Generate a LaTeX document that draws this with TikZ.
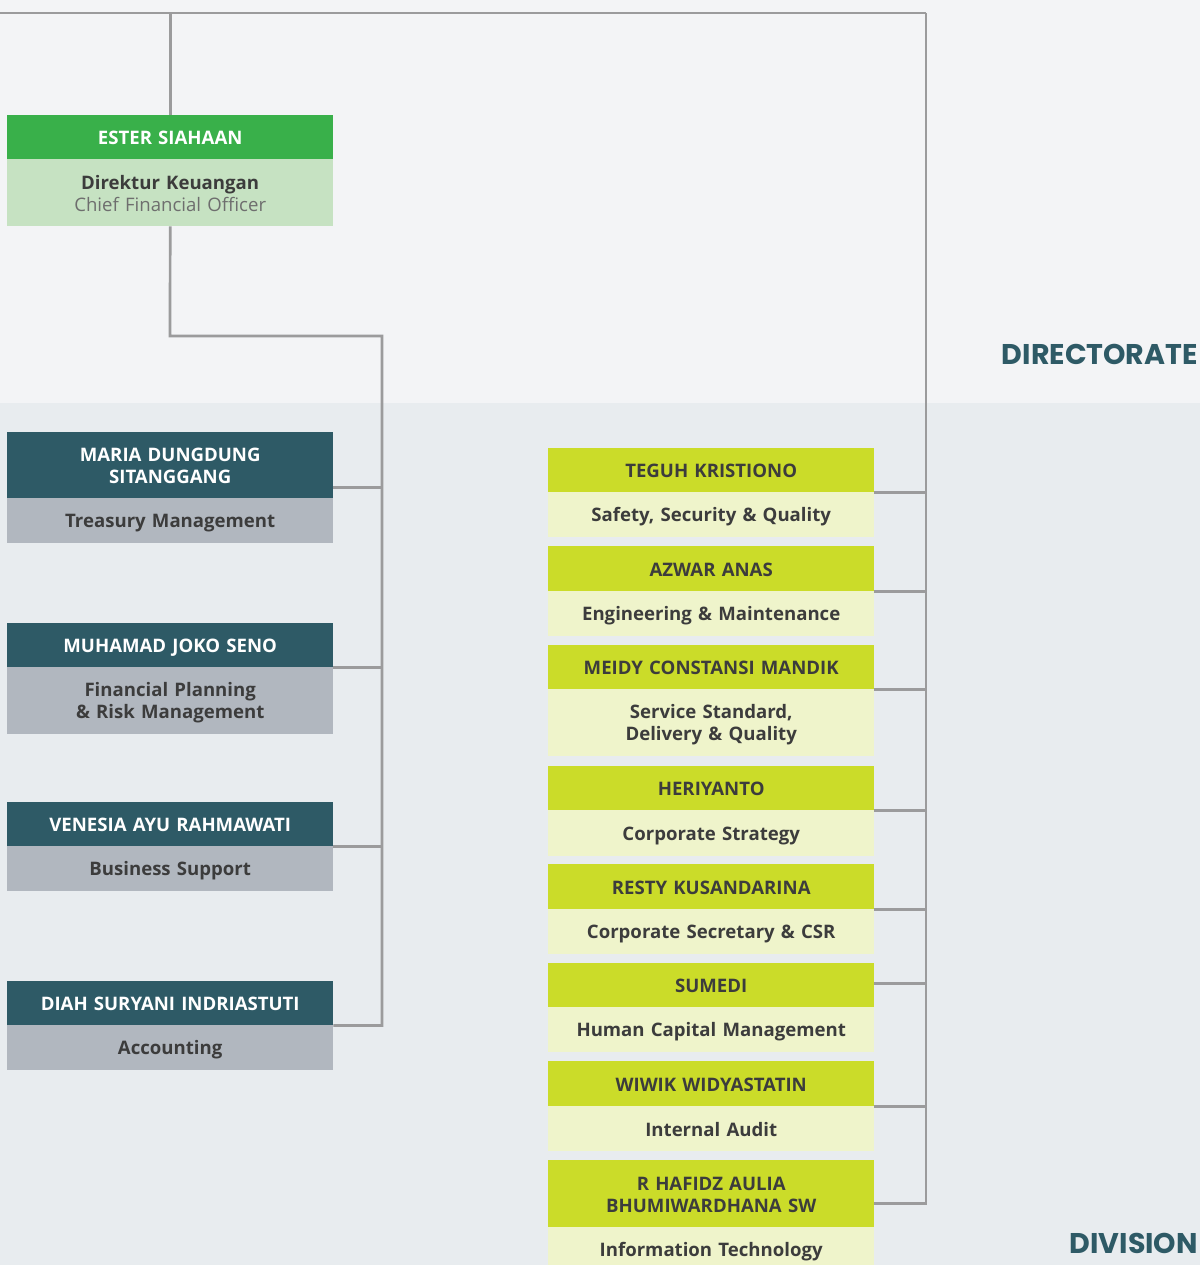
\documentclass[tikz,border=0pt]{standalone}
\usepackage{fontspec}
\setmainfont{Open Sans}
\newfontfamily\titlefont{Poppins}
\usetikzlibrary{calc}
\definecolor{bgtop}{HTML}{F3F4F6}
\definecolor{bgbot}{HTML}{E8ECEF}
\definecolor{linec}{HTML}{9B9B9C}
\definecolor{cfogreen}{HTML}{39B04A}
\definecolor{cfolight}{HTML}{C6E2C2}
\definecolor{tealh}{HTML}{2E5A66}
\definecolor{grayb}{HTML}{B1B7BF}
\definecolor{limeh}{HTML}{CBDC29}
\definecolor{limeb}{HTML}{EFF4CB}
\definecolor{txt}{HTML}{3C3C3C}
\definecolor{subtxt}{HTML}{6E6E6E}
\tikzset{
  cell/.style={draw=none, inner sep=0pt, minimum width=326pt, text width=320pt,
    align=center, anchor=north west, font=\fontsize{18.6}{22}\selectfont\bfseries, text=txt,
    execute at begin node={\rule{0pt}{19pt}},
    execute at end node={\rule[-4pt]{0pt}{4pt}}},
  tealhead/.style={cell, fill=tealh, text=white},
  graybody/.style={cell, fill=grayb},
  limehead/.style={cell, fill=limeh},
  limebody/.style={cell, fill=limeb},
  conn/.style={draw=linec, line width=2.7pt},
  section/.style={anchor=east, inner sep=0pt, text=tealh, font=\titlefont\fontsize{28.5}{30}\selectfont\bfseries}
}
\begin{document}
\begin{tikzpicture}[x=1pt,y=-1pt]
\useasboundingbox (0,0) rectangle (1200,1265);
\fill[bgtop] (0,0) rectangle (1200,403);
\fill[bgbot] (0,403) rectangle (1200,1265);

% Directorate
\node[cell, fill=cfogreen, text=white, minimum height=44pt] (ester-h) at (7,115) {ESTER SIAHAAN};
\node[cell, fill=cfolight, minimum height=67pt] (ester-b) at (7,159) {Direktur Keuangan\\{\mdseries\color{subtxt}Chief Financial Officer}};

% Left divisions
\node[tealhead, minimum height=66pt] (maria-h) at (7,432) {MARIA DUNGDUNG\\SITANGGANG};
\node[graybody, minimum height=45pt] (maria-b) at (7,498) {Treasury Management};
\node[tealhead, minimum height=44pt] (joko-h) at (7,623) {MUHAMAD JOKO SENO};
\node[graybody, minimum height=67pt] (joko-b) at (7,667) {Financial Planning\\\& Risk Management};
\node[tealhead, minimum height=44pt] (venesia-h) at (7,802) {VENESIA AYU RAHMAWATI};
\node[graybody, minimum height=45pt] (venesia-b) at (7,846) {Business Support};
\node[tealhead, minimum height=44pt] (diah-h) at (7,981) {DIAH SURYANI INDRIASTUTI};
\node[graybody, minimum height=45pt] (diah-b) at (7,1025) {Accounting};

% Right divisions
\node[limehead, minimum height=44pt] (teguh-h) at (548,448) {TEGUH KRISTIONO};
\node[limebody, minimum height=45pt] (teguh-b) at (548,492) {Safety, Security \& Quality};
\node[limehead, minimum height=45pt] (azwar-h) at (548,546) {AZWAR ANAS};
\node[limebody, minimum height=45pt] (azwar-b) at (548,591) {Engineering \& Maintenance};
\node[limehead, minimum height=44pt] (meidy-h) at (548,645) {MEIDY CONSTANSI MANDIK};
\node[limebody, minimum height=67pt] (meidy-b) at (548,689) {Service Standard,\\Delivery \& Quality};
\node[limehead, minimum height=44pt] (heri-h) at (548,766) {HERIYANTO};
\node[limebody, minimum height=46pt] (heri-b) at (548,810) {Corporate Strategy};
\node[limehead, minimum height=45pt] (resty-h) at (548,864) {RESTY KUSANDARINA};
\node[limebody, minimum height=45pt] (resty-b) at (548,909) {Corporate Secretary \& CSR};
\node[limehead, minimum height=44pt] (sumedi-h) at (548,963) {SUMEDI};
\node[limebody, minimum height=45pt] (sumedi-b) at (548,1007) {Human Capital Management};
\node[limehead, minimum height=45pt] (wiwik-h) at (548,1061) {WIWIK WIDYASTATIN};
\node[limebody, minimum height=45pt] (wiwik-b) at (548,1106) {Internal Audit};
\node[limehead, minimum height=67pt] (hafidz-h) at (548,1160) {R HAFIDZ AULIA\\BHUMIWARDHANA SW};
\node[limebody, minimum height=45pt] (hafidz-b) at (548,1227) {Information Technology};

% Section labels
\node[section] (dirlabel) at (1198,354) {DIRECTORATE};
\node[section] (divlabel) at (1198,1243) {DIVISION};

% Connectors
\coordinate (topleft) at (0,13);
\coordinate (topright) at (926,13);
\coordinate (bendA) at (170,336);
\coordinate (spineL) at (382,336);
\coordinate (mariaJ) at ($(maria-h.south east)+(0,-11)$);
\coordinate (sumediJ) at ($(sumedi-h.east)+(0,-2)$);
\coordinate (hafidzJ) at ($(hafidz-h.south east)+(0,-24)$);
\draw[conn] (topleft) -- (topright);
\draw[conn] (ester-h.north) -- (ester-h.north |- topleft);
\draw[conn] (ester-b.south) -- (bendA) -- (spineL) -- (spineL |- diah-h.south) -- (diah-h.south east);
\draw[conn] (mariaJ) -- (mariaJ -| spineL);
\draw[conn] (joko-h.south east) -- (joko-h.south east -| spineL);
\draw[conn] (venesia-h.south east) -- (venesia-h.south east -| spineL);
\draw[conn] (topright) -- (topright |- hafidzJ) -- (hafidzJ);
\draw[conn] (teguh-h.south east) -- (teguh-h.south east -| topright);
\draw[conn] (azwar-h.south east) -- (azwar-h.south east -| topright);
\draw[conn] (meidy-h.south east) -- (meidy-h.south east -| topright);
\draw[conn] (heri-h.south east) -- (heri-h.south east -| topright);
\draw[conn] (resty-h.south east) -- (resty-h.south east -| topright);
\draw[conn] (sumediJ) -- (sumediJ -| topright);
\draw[conn] (wiwik-h.south east) -- (wiwik-h.south east -| topright);
\end{tikzpicture}
\end{document}
